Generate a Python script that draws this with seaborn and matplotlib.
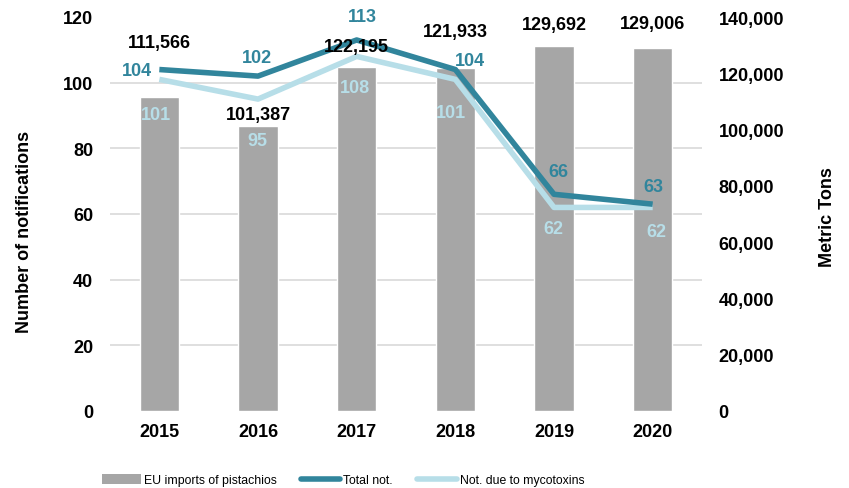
import numpy as np
import pandas as pd
import matplotlib
matplotlib.use('Agg')
import matplotlib.pyplot as plt
from matplotlib.patches import Patch
from matplotlib.lines import Line2D
from matplotlib.ticker import FixedLocator, FuncFormatter
import seaborn as sns

# data
years = ['2015', '2016', '2017', '2018', '2019', '2020']
imports = [111566, 101387, 122195, 121933, 129692, 129006]
total_not = [104, 102, 113, 104, 66, 63]
myco_not = [101, 95, 108, 101, 62, 62]

# label nudges in pixels (dx, dy), to mimic the hand placed labels
bar_off = [(0, 55), (0, 11), (0, 21), (0, 36), (0, 22), (0, 24)]
total_off = [(-22, -1), (-1, 19), (6, 23), (15, 9), (4, 23), (1, 18)]
myco_off = [(-3, -35), (-1, -41), (-2, -31), (-4, -33), (-1, -21), (4, -24)]

BAR = '#a6a6a6'
DARK = '#31859c'
LIGHT = '#b7dee8'
GRID = '#d9d9d9'

sns.set_style('white')
plt.rcParams['font.family'] = ['Liberation Sans', 'DejaVu Sans']
plt.rcParams['text.color'] = 'black'
plt.rcParams['xtick.color'] = 'black'
plt.rcParams['ytick.color'] = 'black'

df = pd.DataFrame({'year': years, 'imports': imports,
                   'total': total_not, 'myco': myco_not})
df['pos'] = np.arange(len(df))

fig = plt.figure(figsize=(8.49, 4.89), dpi=100)
ax = fig.add_axes([110 / 849, 1 - 412 / 489, (702 - 110) / 849, (412 - 18) / 489])

# bars on the metric tons axis (shown on the right)
sns.barplot(data=df, x='year', y='imports', ax=ax, color=BAR,
            saturation=1, width=0.4, zorder=2)
ax.set_xlim(-0.5, len(df) - 0.5)
ax.set_ylim(0, 140000)
ax.set_yticks(np.arange(0, 140001, 20000))
ax.yaxis.set_major_formatter(FuncFormatter(lambda v, p: f'{v:,.0f}'))
ax.set_xlabel('')
ax.set_ylabel('')
# grid follows the notifications axis (every 20 of 120)
ax.yaxis.set_minor_locator(FixedLocator(np.linspace(0, 140000, 7)))
ax.grid(which='minor', axis='y', color=GRID, lw=1.2)
ax.grid(which='major', visible=False)
ax.set_axisbelow(True)

# lines on the notifications axis (shown on the left)
ax_l = ax.twinx()
sns.lineplot(data=df, x='pos', y='total', ax=ax_l, color=DARK, lw=4,
             solid_capstyle='butt', zorder=3)
sns.lineplot(data=df, x='pos', y='myco', ax=ax_l, color=LIGHT, lw=4,
             solid_capstyle='butt', zorder=2)
ax_l.set_ylim(0, 120)
ax_l.set_yticks(np.arange(0, 121, 20))
ax_l.set_xlabel('')
ax_l.set_ylabel('')

# swap sides: twinx put the original axis on the left
ax.yaxis.tick_right()
ax_l.yaxis.tick_left()

for a in (ax, ax_l):
    for s in a.spines.values():
        s.set_visible(False)
    a.tick_params(axis='y', which='both', length=0, pad=12, labelsize=13)
    a.tick_params(axis='x', length=0, pad=9, labelsize=13)
    for t in a.get_yticklabels() + a.get_xticklabels():
        t.set_fontweight('bold')

# data labels
for i, row in df.iterrows():
    ax_l.annotate(f'{row.imports:,}', (row.pos, row.imports), xycoords=ax.transData,
                  xytext=bar_off[i], textcoords='offset pixels', ha='center',
                  va='center', fontsize=13, fontweight='bold', color='black', zorder=5)
    ax_l.annotate(str(row.total), (row.pos, row.total), xytext=total_off[i],
                  textcoords='offset pixels', ha='center', va='center',
                  fontsize=13, fontweight='bold', color=DARK, zorder=5)
    ax_l.annotate(str(row.myco), (row.pos, row.myco), xytext=myco_off[i],
                  textcoords='offset pixels', ha='center', va='center',
                  fontsize=13, fontweight='bold', color=LIGHT, zorder=5)

fig.text(25 / 849, 1 - 232 / 489, 'Number of notifications', rotation=90,
         ha='center', va='center', fontsize=13, fontweight='bold')
fig.text(828 / 849, 1 - 217 / 489, 'Metric Tons', rotation=90,
         ha='center', va='center', fontsize=13, fontweight='bold')

handles = [Patch(facecolor=BAR, edgecolor='none'),
           Line2D([], [], color=DARK, lw=4, solid_capstyle='round'),
           Line2D([], [], color=LIGHT, lw=4, solid_capstyle='round')]
labels = ['EU imports of pistachios', 'Total not.', 'Not. due to mycotoxins']
fig.legend(handles, labels, loc='center', bbox_to_anchor=(343 / 849, 0.016),
           ncol=3, frameon=False, fontsize=8.8, handlelength=3.2,
           handleheight=0.9, handletextpad=0.25, columnspacing=2.0)

fig.savefig('out.png', dpi=100)
